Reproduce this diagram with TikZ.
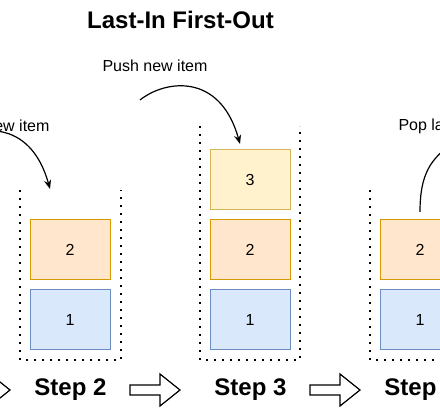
\documentclass[tikz,border=0pt]{standalone}
\usepackage{fontspec}
\setmainfont{Liberation Sans}
\usetikzlibrary{arrows.meta}
\definecolor{bluefill}{HTML}{DAE8FC}\definecolor{bluedraw}{HTML}{6C8EBF}
\definecolor{orfill}{HTML}{FFE6CC}\definecolor{ordraw}{HTML}{D79B00}
\definecolor{yefill}{HTML}{FFF2CC}\definecolor{yedraw}{HTML}{D6B656}
\tikzset{
  item/.style={draw, line width=1pt, minimum width=80pt, minimum height=60pt, inner sep=0pt, font=\fontsize{16pt}{19pt}\selectfont},
  blueitem/.style={item, fill=bluefill, draw=bluedraw},
  oritem/.style={item, fill=orfill, draw=ordraw},
  yeitem/.style={item, fill=yefill, draw=yedraw},
  container/.style={line width=1.6pt, dash pattern=on 1.6pt off 6.4pt},
  steplabel/.style={font=\bfseries\fontsize{24pt}{28pt}\selectfont},
  note/.style={font=\fontsize{16pt}{19pt}\selectfont},
  curvearrow/.style={line width=1.2pt, -{Stealth[length=9pt,width=7pt]}},
  blockarrow/.style={draw, line width=1.2pt, fill=white},
}
\begin{document}
\begin{tikzpicture}[x=1pt,y=-1pt]
\clip (0,0) rectangle (440,411);
\fill[white] (0,0) rectangle (440,411);
% title
\node[font=\bfseries\fontsize{24pt}{28pt}\selectfont] (title) at (180.5,20) {Last-In First-Out};
% block arrows
\foreach \s in {-170,0,180}{
  \draw[blockarrow] (130+\s,385)--(160+\s,385)--(160+\s,374)--(180+\s,390)--(160+\s,406)--(160+\s,395)--(130+\s,395)--cycle;
}
% stack 2
\draw[container] (20,190)--(20,360)--(121,360)--(121,190);
\node[oritem] (s2b2) at (70,250) {2};
\node[blueitem] (s2b1) at (70,320) {1};
\node[steplabel] (step2) at (70.5,390) {Step 2};
% stack 3
\draw[container] (200,126)--(200,360)--(300,360)--(300,126);
\node[yeitem] (s3b3) at (250,180) {3};
\node[oritem] (s3b2) at (250,250) {2};
\node[blueitem] (s3b1) at (250,320) {1};
\node[steplabel] (step3) at (250.5,390) {Step 3};
% stack 4
\draw[container] (370,190)--(370,360)--(471,360)--(471,190);
\node[oritem] (s4b2) at (420,250) {2};
\node[blueitem] (s4b1) at (420,320) {1};
\node[steplabel] (step4) at (420.5,390) {Step 4};
% notes
\node[note] (push2) at (-3,126) {Push new item};
\node[note] (push3) at (155,66) {Push new item};
\node[note,anchor=west] (pop4) at (395,126) {Pop last item};
% curves
\coordinate (p2s) at (-50,145); \coordinate (p2e) at (50,189);
\coordinate (p3s) at (140,100); \coordinate (p3e) at (240,144);
\coordinate (q4s) at (420,212); \coordinate (q4e) at (455,142);
\draw[curvearrow] (p2s) .. controls (-25,125) and (30,117) .. (p2e);
\draw[curvearrow] (p3s) .. controls (165,80) and (220,72) .. (p3e);
\draw[line width=1.2pt] (q4s) .. controls (420,175) and (430,158) .. (q4e);
\end{tikzpicture}
\end{document}
